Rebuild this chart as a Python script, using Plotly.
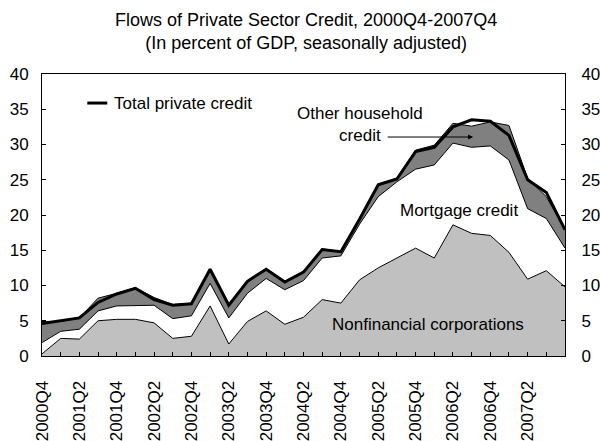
import plotly.graph_objects as go

# Quarterly credit flows, percent of GDP (seasonally adjusted)
quarters = [
    "2000Q4", "2001Q1", "2001Q2", "2001Q3", "2001Q4", "2002Q1", "2002Q2", "2002Q3",
    "2002Q4", "2003Q1", "2003Q2", "2003Q3", "2003Q4", "2004Q1", "2004Q2", "2004Q3",
    "2004Q4", "2005Q1", "2005Q2", "2005Q3", "2005Q4", "2006Q1", "2006Q2", "2006Q3",
    "2006Q4", "2007Q1", "2007Q2", "2007Q3", "2007Q4",
]
nonfin_corp = [0.3, 2.5, 2.4, 5.0, 5.2, 5.2, 4.7, 2.5, 2.8, 7.1, 1.7, 4.9, 6.4, 4.5, 5.5,
               8.0, 7.5, 10.8, 12.5, 13.9, 15.3, 13.9, 18.6, 17.4, 17.1, 14.7, 10.9, 12.1, 9.8]
mortgage = [1.6, 1.0, 1.4, 1.4, 1.9, 1.9, 2.5, 2.8, 2.9, 3.2, 3.7, 4.0, 4.6, 4.9, 5.2,
            5.9, 6.7, 7.9, 10.1, 10.8, 11.2, 13.2, 11.6, 12.2, 12.7, 13.1, 10.0, 7.4, 5.5]
other_household = [3.0, 1.4, 1.6, 1.8, 1.8, 2.6, 1.1, 2.0, 1.8, 2.0, 1.9, 1.8, 1.4, 1.2, 1.3,
                   1.3, 0.6, 0.8, 1.8, 0.5, 2.7, 2.8, 2.8, 3.0, 3.4, 4.9, 4.3, 3.1, 2.6]
total_private = [4.6, 5.0, 5.4, 7.6, 8.8, 9.6, 8.0, 7.2, 7.4, 12.3, 7.2, 10.6, 12.3, 10.5, 11.9,
                 15.1, 14.8, 19.4, 24.3, 25.1, 29.0, 29.6, 32.5, 33.5, 33.3, 31.3, 25.0, 23.2, 17.9]

y_ticks = [0, 5, 10, 15, 20, 25, 30, 35, 40]
tick_text = [q if (i % 2 == 0 and i < len(quarters) - 1) else "" for i, q in enumerate(quarters)]

FONT = "Liberation Sans, Arial, sans-serif"

fig = go.Figure()

layers = [
    ("Nonfinancial corporations", nonfin_corp, "#c0c0c0"),
    ("Mortgage credit", mortgage, "#ffffff"),
    ("Other household credit", other_household, "#808080"),
]
for name, vals, color in layers:
    fig.add_trace(go.Scatter(
        x=quarters, y=vals, name=name, stackgroup="credit", mode="lines",
        line=dict(color="black", width=1), fillcolor=color, showlegend=False,
        hoverinfo="skip",
    ))

fig.add_trace(go.Scatter(
    x=quarters, y=total_private, name="Total private credit", mode="lines",
    line=dict(color="black", width=3), showlegend=False,
))

# invisible trace so the right-hand axis is drawn
fig.add_trace(go.Scatter(
    x=quarters, y=total_private, yaxis="y2", mode="lines",
    line=dict(width=0), opacity=0, showlegend=False, hoverinfo="skip",
))

axis_font = dict(family=FONT, size=17, color="black")

fig.update_layout(
    width=600, height=441,
    margin=dict(l=42, r=35, t=74, b=85),
    paper_bgcolor="white", plot_bgcolor="white",
    font=dict(family=FONT, size=17, color="black"),
    xaxis=dict(
        type="category", range=[0, len(quarters) - 1],
        tickmode="array", tickvals=quarters, ticktext=tick_text,
        tickangle=-90, ticks="inside", ticklen=4, tickcolor="black",
        showline=True, linecolor="black", linewidth=1, mirror=True,
        showgrid=False, zeroline=False, tickfont=axis_font,
        ticklabelstandoff=17, automargin=False,
    ),
    yaxis=dict(
        range=[0, 40], tickvals=y_ticks, ticks="inside", ticklen=4,
        tickcolor="black", showline=True, linecolor="black", linewidth=1,
        showgrid=False, zeroline=False, tickfont=axis_font,
        ticklabelstandoff=9, automargin=False,
    ),
    yaxis2=dict(
        range=[0, 40], tickvals=y_ticks, ticks="inside", ticklen=4,
        tickcolor="black", showline=True, linecolor="black", linewidth=1,
        showgrid=False, zeroline=False, tickfont=axis_font,
        overlaying="y", side="right", ticklabelstandoff=12, automargin=False,
    ),
    showlegend=False,
)

# Title
fig.add_annotation(
    text="Flows of Private Sector Credit, 2000Q4-2007Q4<br>(In percent of GDP, seasonally adjusted)",
    xref="paper", yref="paper", x=0.505, y=1.152, xanchor="center", yanchor="middle",
    showarrow=False, font=dict(family=FONT, size=18, color="black"),
)

# Legend entry for the total line
fig.add_shape(type="line", xref="paper", yref="paper", x0=0.0866, x1=0.1248,
              y0=0.897, y1=0.897, line=dict(color="black", width=3))
fig.add_annotation(text="Total private credit", xref="paper", yref="paper",
                   x=0.1345, y=0.897, xanchor="left", yanchor="middle",
                   showarrow=False, font=dict(family=FONT, size=17, color="black"))

# Series labels
fig.add_annotation(text="Other household<br>credit", x=17.0, y=32.8, xref="x", yref="y",
                   showarrow=False, font=dict(family=FONT, size=17, color="black"))
fig.add_annotation(text="", x=23.08, y=31.06, xref="x", yref="y", ax=-87, ay=0,
                   showarrow=True, arrowhead=2, arrowsize=1, arrowwidth=1,
                   arrowcolor="black")
fig.add_annotation(text="Mortgage credit", x=22.33, y=20.7, xref="x", yref="y",
                   showarrow=False, font=dict(family=FONT, size=17, color="black"))
fig.add_annotation(text="Nonfinancial corporations", x=20.67, y=4.4, xref="x", yref="y",
                   showarrow=False, font=dict(family=FONT, size=17, color="black"))

fig.write_html("out.html")
